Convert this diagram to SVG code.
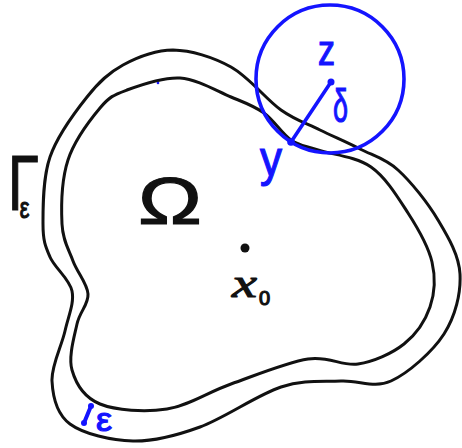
<svg xmlns="http://www.w3.org/2000/svg" width="462" height="448" viewBox="0 0 462 448">
<style>
.curve{fill:none;stroke:#111;stroke-width:3;stroke-linejoin:round}
.blue{fill:none;stroke:#1414ff;stroke-width:3.6;stroke-linecap:round}
.bt{fill:#1414ff;stroke:#1414ff;stroke-width:1.2;font-family:"Liberation Sans",Arial,sans-serif}
.kt{fill:#111;stroke:#111;stroke-width:1.2;font-family:"Liberation Sans",Arial,sans-serif}
</style>
<rect width="462" height="448" fill="#fff"/>
<g id="outer-boundary">
<path class="curve" d="M173,50 C191,50.3 213,57 231,67 C249,77 266.2,99.5 281,110 C295.8,120.5 306.8,123.5 320,130 C333.2,136.5 347,142.3 360,149 C373,155.7 385,158.2 398,170 C411,181.8 427.7,202.7 438,220 C448.3,237.3 459,255 460,274 C461,293 455.5,316.2 444,334 C432.5,351.8 408.2,373.2 391,381 C373.8,388.8 359.3,380 341,381 C322.7,382 304.5,379.3 281,387 C257.5,394.7 224.7,418 200,427 C175.3,436 154.7,441.5 133,441 C111.3,440.5 83.5,434 70,424 C56.5,414 52.8,396.5 52,381 C51.2,365.5 61.7,346 65,331 C68.3,316 74.5,303.3 72,291 C69.5,278.7 54.8,268.2 50,257 C45.2,245.8 43,240.7 43,224 C43,207.3 42.7,178.2 50,157 C57.3,135.8 74.8,112.3 87,97 C99.2,81.7 108.7,72.8 123,65 C137.3,57.2 155,50.3 173,50 Z"/>
</g>
<g id="inner-boundary">
<path class="curve" d="M180,78 C197.3,79.2 217,91.2 231,97 C245,102.8 254,105.8 264,113 C274,120.2 282,133.8 291,140 C300,146.2 304.7,145.5 318,150 C331.3,154.5 356,156.5 371,167 C386,177.5 397.8,197.2 408,213 C418.2,228.8 428.3,246.3 432,262 C435.7,277.7 434.7,293.3 430,307 C425.3,320.7 416,334.5 404,344 C392,353.5 374,361.5 358,364 C342,366.5 329.2,355.7 308,359 C286.8,362.3 254.5,375.7 231,384 C207.5,392.3 188.8,405.7 167,409 C145.2,412.3 115.8,410.5 100,404 C84.2,397.5 75.8,383.3 72,370 C68.2,356.7 74.3,336.7 77,324 C79.7,311.3 88.7,304.5 88,294 C87.3,283.5 77.3,272.7 73,261 C68.7,249.3 62.8,240.8 62,224 C61.2,207.2 61.7,179.3 68,160 C74.3,140.7 90.2,119.7 100,108 C109.8,96.3 113.7,95 127,90 C140.3,85 163,77 180,78 Z"/>
<circle cx="158" cy="83" r="1.3" fill="#1414ff"/>
</g>
<g id="ball">
<circle class="blue" cx="330" cy="79" r="74"/>
<line class="blue" x1="331" y1="82" x2="291" y2="142" stroke-width="3"/>
<circle cx="331" cy="82" r="3.5" fill="#1414ff"/>
<circle cx="291" cy="142" r="3.8" fill="#1414ff"/>
<text class="bt" x="318" y="65" font-size="42" textLength="17" lengthAdjust="spacingAndGlyphs">z</text>
<text class="bt" x="333" y="122" font-size="46" textLength="15" lengthAdjust="spacingAndGlyphs">δ</text>
<text class="bt" x="260" y="176" font-size="50" textLength="22" lengthAdjust="spacingAndGlyphs">y</text>
</g>
<g id="labels">
<text class="kt" x="138" y="224" font-size="66" textLength="64" lengthAdjust="spacingAndGlyphs">Ω</text>
<circle cx="245" cy="248" r="4.5" fill="#111"/>
<text x="232" y="297" font-family="'Liberation Serif',serif" font-style="italic" font-size="40" fill="#111" stroke="#111" stroke-width="1" textLength="25" lengthAdjust="spacingAndGlyphs">x</text>
<text class="kt" x="259" y="305" font-size="20">0</text>
<text class="kt" transform="translate(8,210) scale(0.72,1)" font-size="78">Γ<tspan font-size="30" dx="-26.7" dy="8">ε</tspan></text>
</g>
<g id="width-mark">
<line x1="91" y1="406" x2="84" y2="423" stroke="#1414ff" stroke-width="4" stroke-linecap="round"/>
<circle cx="91" cy="406" r="3" fill="#1414ff"/>
<circle cx="84" cy="423" r="3" fill="#1414ff"/>
<text class="bt" x="96" y="431" font-size="34" textLength="16" lengthAdjust="spacingAndGlyphs">ε</text>
</g>
</svg>
